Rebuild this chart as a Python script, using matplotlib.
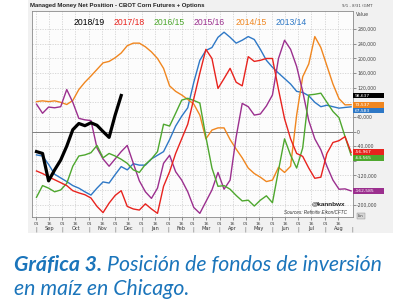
import numpy as np
import matplotlib.pyplot as plt
import matplotlib.transforms as mtransforms
from matplotlib.patches import Rectangle

# Managed money net position (thousands of contracts), weekly from Sep 1
seasons = ["2018/19", "2017/18", "2016/15", "2015/16", "2014/15", "2013/14"]
season_colors = ["#000000", "#e8231e", "#4ea72e", "#9b2f8e", "#f0861f", "#2e78c6"]

pos_2018_19 = [-55, -60, -135, -105, -78, -40, 5, 22, 16, 24, 17, 0, -16, 45, 98.637]
pos_2017_18 = [-108, -115, -124, -132, -140, -148, -162, -168, -173, -182, -205, -222, -196, -175,
               -162, -205, -212, -215, -198, -212, -224, -150, -110, -60, -20, 20, 90, 160, 225, 200,
               118, 145, 173, 135, 125, 205, 192, 195, 200, 200, 115, 35, -20, -60, -68, -100, -128,
               -125, -60, -30, -25, -14, -56.967]
pos_2016_15 = [-180, -148, -155, -165, -160, -142, -95, -67, -64, -58, -38, -72, -60, -67, -76, -87,
               -105, -112, -90, -75, -55, 20, 15, 50, 86, 91, 85, 78, -15, -100, -150, -148, -158,
               -175, -190, -188, -204, -188, -176, -195, -106, -20, -65, -100, -45, 100, 102, 105, 80,
               55, 38, -14, -64.565]
pos_2015_16 = [75, 50, 67, 65, 68, 115, 80, 36, 32, 30, -45, -75, -95, -75, -55, -38, -87, -135,
               -165, -183, -155, -87, -65, -110, -133, -165, -208, -224, -192, -160, -112, -158, -133,
               -15, 77, 68, 45, 48, 70, 100, 200, 250, 225, 178, 110, 30, -20, -50, -95, -133, -158,
               -157, -162.585]
pos_2014_15 = [82, 84, 82, 84, 80, 74, 85, 115, 135, 152, 170, 188, 192, 202, 215, 235, 242, 242,
               232, 218, 200, 173, 125, 110, 100, 88, 75, 45, -20, 4, 10, 10, -22, -48, -72, -100,
               -115, -125, -137, -133, -98, -112, -95, 45, 150, 185, 260, 230, 180, 130, 90, 73, 73.537]
pos_2013_14 = [-64, -67, -90, -117, -127, -137, -148, -155, -165, -174, -155, -138, -141, -118, -96,
               -105, -88, -92, -92, -75, -65, -55, -22, 15, 42, 65, 135, 195, 222, 230, 258, 272, 258,
               242, 250, 260, 252, 225, 195, 176, 160, 145, 130, 110, 107, 98, 80, 68, 72, 68, 64, 66,
               67.583]

series = [pos_2018_19, pos_2017_18, pos_2016_15, pos_2015_16, pos_2014_15, pos_2013_14]

months = ["Sep", "Oct", "Nov", "Dec", "Jan", "Feb", "Mar", "Apr", "May", "Jun", "Jul", "Aug"]
month_start = [0, 30, 61, 91, 122, 153, 181, 212, 242, 273, 303, 334, 365]  # days from Sep 1

W, H = 410, 300
fig = plt.figure(figsize=(W / 100, H / 100), dpi=100)
fig.patch.set_facecolor("white")


def fx(px):
    return px / W


def fy(py):
    return 1 - py / H


# grey chart panel behind everything
fig.patches.append(Rectangle((fx(28), fy(233)), fx(393) - fx(28), fy(0) - fy(233),
                             transform=fig.transFigure, facecolor="#f1f1f1", edgecolor="none",
                             zorder=-10))

ax = fig.add_axes([fx(32), fy(217), fx(353) - fx(32), fy(11) - fy(217)])
ax.set_zorder(1)
ax.set_facecolor("#fcfcfc")

# colored seasons first, current season on top
for s, vals, col in list(zip(seasons, series, season_colors))[::-1]:
    days = np.arange(len(vals)) * 7
    lw = 2.3 if s == "2018/19" else 1.0
    ax.plot(days, vals, color=col, lw=lw, solid_joinstyle="round", zorder=4 if s == "2018/19" else 3)

ax.axhline(0, color="#707070", lw=0.6, zorder=2)

ax.set_xlim(-5.2, 366.2)
ax.set_ylim(-234, 330)

# last-value boxes: nudge so they don't collide
order = sorted(range(len(series)), key=lambda i: -series[i][-1])
box_pos = {}
prev = None
for i in order:
    v = series[i][-1]
    if prev is not None and prev - v < 16:
        v = prev - 16
    box_pos[i] = v
    prev = v

yt = np.arange(-200, 281, 40)
ax.set_yticks(yt)
ax.set_yticklabels(["" if any(abs(v - b) < 13 for b in box_pos.values()) else f"{v * 1000:,}"
                    for v in yt])
ax.yaxis.tick_right()
ax.tick_params(axis="y", labelsize=3.3, length=2, pad=1, colors="#444444", width=0.4)

xt = []
xl = []
for m in month_start[:-1]:
    xt += [m, m + 15]
    xl += ["01", "16"]
ax.set_xticks(xt)
ax.set_xticklabels(xl)
ax.tick_params(axis="x", labelsize=3.2, length=2, pad=1.5, colors="#444444", width=0.4)

ax.grid(True, color="#c4c4c4", lw=0.45, ls=(0, (2, 2)))
for sp in ax.spines.values():
    sp.set_color("#8a8a8a")
    sp.set_linewidth(0.6)

trans = mtransforms.blended_transform_factory(ax.transData, ax.transAxes)
for i, m in enumerate(months):
    mid = (month_start[i] + month_start[i + 1]) / 2
    ax.text(mid, -0.058, m, transform=trans, ha="center", va="center", fontsize=3.6, color="#333333")
for m in month_start:
    ax.text(m, -0.058, "|", transform=trans, ha="center", va="center", fontsize=3.6, color="#555555")

# season labels inside the plot
label_x = [74, 114, 154, 194, 236, 276]
for s, col, px in zip(seasons, season_colors, label_x):
    fig.text(fx(px), fy(22.5), s, color=col, fontsize=6.2, ha="left", va="center",
             family="Liberation Sans", zorder=5)

btrans = mtransforms.blended_transform_factory(ax.transAxes, ax.transData)
for i, v in box_pos.items():
    ax.add_patch(Rectangle((1.0, v - 8), 0.097, 16, transform=btrans, facecolor=season_colors[i],
                           edgecolor="none", clip_on=False, zorder=6))
    ax.text(1.004, v, f"{series[i][-1] * 1000:,.0f}", transform=btrans, color="white", fontsize=3.2,
            ha="left", va="center", zorder=7, clip_on=False)

fig.text(fx(30), fy(5), "Managed Money Net Position - CBOT Corn Futures + Options", fontsize=4.3,
         fontweight="bold", ha="left", va="center", family="Liberation Sans", color="#222222")
fig.text(fx(342), fy(6), "9/1 - 8/31 (GMT", fontsize=2.8, ha="left", va="center", color="#444444")
fig.text(fx(356), fy(14), "Value", fontsize=3.4, ha="left", va="center", color="#444444")
fig.text(fx(345), fy(204), "@kannbwx", fontsize=4.6, fontweight="bold", ha="right", va="center",
         color="#222222", family="Liberation Sans", zorder=5)
fig.text(fx(347), fy(213), "Sources: Refinitiv Eikon/CFTC", fontsize=3.3, style="italic", ha="right",
         va="center", color="#333333", family="Liberation Sans", zorder=5)
fig.text(fx(361), fy(216), "Lin", fontsize=2.8, ha="center", va="center", color="#333333",
         bbox=dict(boxstyle="square,pad=0.3", fc="#d6d6d6", ec="#888888", lw=0.3))

# caption
cap_color = "#1b75bb"
cap_font = ["Lato", "DejaVu Sans"]
t1 = fig.text(fx(14), fy(271), "Gráfica 3.", fontsize=15.3, fontweight="bold", style="italic",
              color=cap_color, family=cap_font, ha="left", va="baseline")
fig.canvas.draw()
bb = t1.get_window_extent(renderer=fig.canvas.get_renderer())
x_end = fig.transFigure.inverted().transform((bb.x1, bb.y0))[0]
fig.text(x_end, fy(271), " Posición de fondos de inversión", fontsize=15.3, style="italic",
         color=cap_color, family=cap_font, ha="left", va="baseline")
fig.text(fx(14), fy(295), "en maíz en Chicago.", fontsize=15.3, style="italic",
         color=cap_color, family=cap_font, ha="left", va="baseline")

fig.savefig("out.png", dpi=100)
